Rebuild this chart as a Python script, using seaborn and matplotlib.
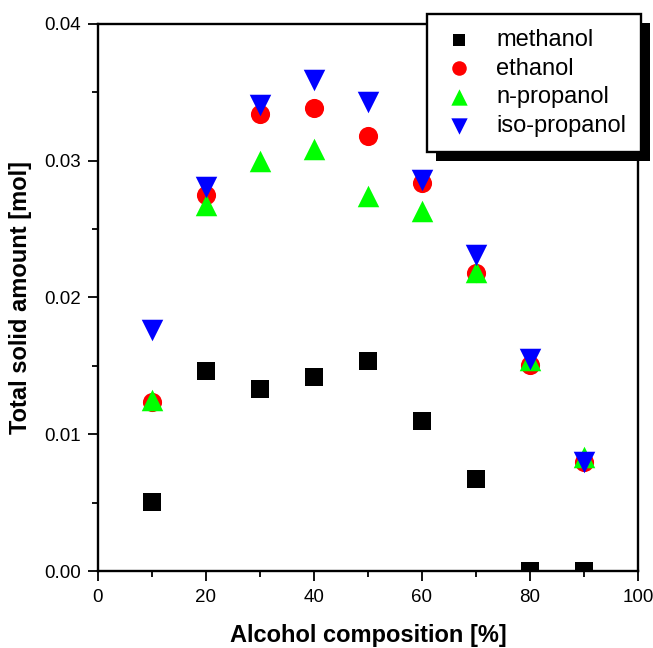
import matplotlib
matplotlib.use("Agg")
import matplotlib.pyplot as plt
import seaborn as sns
import pandas as pd
from matplotlib.patches import Rectangle
from matplotlib.ticker import MultipleLocator, FormatStrFormatter

composition = [10, 20, 30, 40, 50, 60, 70, 80, 90]
methanol = [0.00505, 0.01463, 0.01331, 0.01419, 0.01536, 0.01097, 0.00673, 0.0, 0.0]
ethanol = [0.01236, 0.02750, 0.03342, 0.03388, 0.03181, 0.02837, 0.02179, 0.01506, 0.00797]
n_propanol = [0.01253, 0.02676, 0.02998, 0.03088, 0.02744, 0.02633, 0.02186, 0.01543, 0.00834]
iso_propanol = [0.01760, 0.02808, 0.03410, 0.03593, 0.03432, 0.02859, 0.02311, 0.01550, 0.00797]

series_names = ["methanol", "ethanol", "n-propanol", "iso-propanol"]
series_values = [methanol, ethanol, n_propanol, iso_propanol]
colors = ["#000000", "#ff0000", "#00ff00", "#0000ff"]
markers = ["s", "o", "^", "v"]
sizes = [150, 190, 240, 240]

sns.set_style("white")
plt.rcParams["font.family"] = ["Liberation Sans", "DejaVu Sans"]
plt.rcParams["text.color"] = "black"
plt.rcParams["axes.labelcolor"] = "black"
plt.rcParams["xtick.color"] = "black"
plt.rcParams["ytick.color"] = "black"

fig = plt.figure(figsize=(6.53, 6.48), dpi=100)
ax = fig.add_axes([0.150, 0.1188, 0.827, 0.8442])

for name, vals, c, m, s in zip(series_names, series_values, colors, markers, sizes):
    df = pd.DataFrame({"x": composition, "y": vals})
    sns.scatterplot(data=df, x="x", y="y", ax=ax, color=c, marker=m, s=s,
                    linewidth=0, label=name)

ax.set_xlim(0, 100)
ax.set_ylim(0, 0.04)
ax.xaxis.set_major_locator(MultipleLocator(20))
ax.xaxis.set_minor_locator(MultipleLocator(10))
ax.yaxis.set_major_locator(MultipleLocator(0.01))
ax.yaxis.set_minor_locator(MultipleLocator(0.005))
ax.yaxis.set_major_formatter(FormatStrFormatter("%.2f"))

for sp in ax.spines.values():
    sp.set_linewidth(1.7)
    sp.set_color("black")

ax.tick_params(axis="both", which="major", direction="out", length=7, width=1.3,
               labelsize=13.5, labelcolor="black", colors="black",
               top=False, right=False, bottom=True, left=True)
ax.tick_params(axis="both", which="minor", direction="out", length=4, width=1.3,
               colors="black", top=False, right=False, bottom=True, left=True)
ax.tick_params(axis="x", which="major", pad=6)
ax.tick_params(axis="y", which="major", pad=5)

ax.set_xlabel("Alcohol composition [%]", fontsize=17, fontweight="bold",
              labelpad=13, color="black")
ax.set_ylabel("Total solid amount [mol]", fontsize=17, fontweight="bold",
              labelpad=9, color="black")

leg = ax.legend(loc="upper left", bbox_to_anchor=(0.6100, 1.0180), frameon=True,
                fancybox=False, fontsize=17, markerscale=0.76, handletextpad=0.85,
                borderpad=0.62, labelspacing=0.29, borderaxespad=0, handlelength=1.45)
for t in leg.get_texts():
    t.set_color("black")
leg.get_frame().set_edgecolor("black")
leg.get_frame().set_linewidth(1.7)
leg.get_frame().set_facecolor("white")
leg.get_frame().set_alpha(1)
leg.set_zorder(10)

fig.canvas.draw()
bb = leg.get_window_extent()
shadow = Rectangle((bb.x0 + 9, bb.y0 - 9), bb.width, bb.height, transform=None,
                   facecolor="black", edgecolor="none", zorder=9, clip_on=False)
ax.add_artist(shadow)

fig.savefig("out.png", dpi=100)
